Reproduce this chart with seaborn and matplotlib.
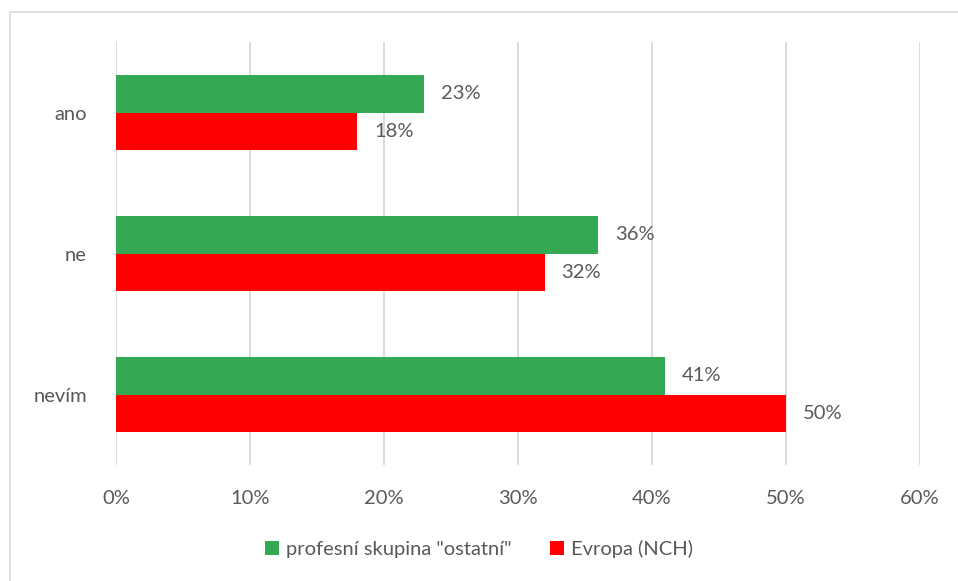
import matplotlib
matplotlib.use("Agg")
import matplotlib.pyplot as plt
import seaborn as sns
import pandas as pd
from matplotlib.patches import Rectangle

categories = ["ano", "ne", "nevím"]
series_names = ['profesní skupina "ostatní"', "Evropa (NCH)"]
ostatni = [23, 36, 41]
evropa = [18, 32, 50]
colors = ["#34A853", "#FF0000"]
x_ticks = [0, 10, 20, 30, 40, 50, 60]

df = pd.DataFrame({
    "cat": categories * 2,
    "val": ostatni + evropa,
    "series": [series_names[0]] * 3 + [series_names[1]] * 3,
})

sns.set_theme(style="white")
plt.rcParams["font.family"] = ["Lato", "DejaVu Sans"]
text_color = "#595959"
fs = 14.5

fig = plt.figure(figsize=(9.58, 5.81), dpi=100)
ax = fig.add_axes([116 / 958, 1 - 465 / 581, (920 - 116) / 958, (465 - 42) / 581])

sns.barplot(data=df, x="val", y="cat", hue="series", hue_order=series_names,
            order=categories, palette=colors, width=0.525, orient="h",
            saturation=1, ax=ax, legend=True, linewidth=0)

for cont in ax.containers:
    ax.bar_label(cont, labels=[f"{v:.0f}%" for v in cont.datavalues],
                 padding=12, fontsize=fs, color=text_color)

ax.set_xlim(0, 60)
ax.set_ylim(2.5, -0.5)
ax.set_xticks(x_ticks)
ax.set_xticklabels([f"{t}%" for t in x_ticks])
ax.set_xlabel("")
ax.set_ylabel("")
ax.tick_params(axis="both", length=0, labelsize=fs, colors=text_color)
ax.tick_params(axis="x", pad=18)
ax.tick_params(axis="y", pad=21)
for s in ax.spines.values():
    s.set_visible(False)
ax.grid(axis="x", color="#D9D9D9", linewidth=1.3)
ax.set_axisbelow(True)

h, l = ax.get_legend_handles_labels()
ax.legend_.remove()
fig.legend(h, l, loc="center", bbox_to_anchor=(0.5, 1 - 549 / 581), ncol=2,
           frameon=False, fontsize=fs, handlelength=0.7, handleheight=0.7,
           handletextpad=0.35, columnspacing=1.9, labelcolor=text_color)

fig.patches.append(Rectangle((10 / 958, -0.1), 1.1, 1 - 12 / 581 + 0.1,
                             transform=fig.transFigure, fill=False,
                             edgecolor="#D9D9D9", linewidth=1.2))

fig.savefig("out.png", dpi=100)
